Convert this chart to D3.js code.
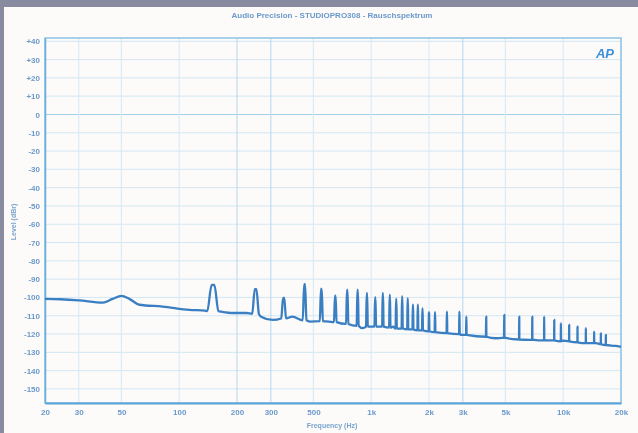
<!DOCTYPE html>
<html>
<head>
<meta charset="utf-8">
<script src="https://cdn.jsdelivr.net/npm/d3@7"></script>
<style>
  html, body { margin: 0; padding: 0; background: #888b9f; }
  svg { display: block; filter: blur(0.45px); }
  text { font-family: "Liberation Sans", Arial, sans-serif; }
</style>
</head>
<body>
<svg id="chart" width="638" height="433"></svg>
<script>
// ---- data ----
const titleText = "Audio Precision - STUDIOPRO308 - Rauschspektrum";
const xTickValues = [20, 30, 50, 100, 200, 300, 500, 1000, 2000, 3000, 5000, 10000, 20000];
const xTickLabels = ["20", "30", "50", "100", "200", "300", "500", "1k", "2k", "3k", "5k", "10k", "20k"];
const yTickValues = [40, 30, 20, 10, 0, -10, -20, -30, -40, -50, -60, -70, -80, -90, -100, -110, -120, -130, -140, -150];
const yTickLabels = ["+40", "+30", "+20", "+10", "0", "-10", "-20", "-30", "-40", "-50", "-60", "-70", "-80", "-90", "-100", "-110", "-120", "-130", "-140", "-150"];

// noise floor: [frequency Hz, level dBr]
const floorPoints = [
  [20, -100.8], [24, -101], [30, -101.6], [40, -102.8], [45, -100.8], [50, -99.2], [55, -100.8],
  [62, -104], [82, -105], [113, -106.8], [136, -107.2], [166, -107.8], [190, -108.5], [224, -108.5],
  [267, -110.5], [307, -112.3], [389, -110.5], [480, -113.2], [600, -113.2], [900, -116.8],
  [1300, -116], [2000, -118.7], [2970, -120.5], [4440, -122.3], [6660, -123.2], [9900, -123.6],
  [14800, -125], [18700, -126.5], [20000, -127]
];
// harmonic spikes: [frequency Hz, peak dBr, foot dBr]
const spikes = [
  [150, -93.2, -107.5], [250, -95.5, -109], [350, -100.3, -111.5], [450, -92.8, -112.5],
  [550, -95.4, -113], [650, -99, -113.5], [750, -95.9, -114.5], [850, -95.9, -115.5],
  [950, -97.7, -116], [1050, -100, -116], [1150, -97.7, -116], [1250, -98.6, -116.5],
  [1350, -100.8, -117], [1450, -99.5, -117], [1550, -100.5, -117.5], [1650, -104, -117.5],
  [1750, -104, -118], [1850, -106, -118], [2000, -108, -118.5], [2150, -108, -119],
  [2480, -107.8, -119.5], [2880, -107.8, -120], [3130, -110.5, -120.5], [3970, -110.5, -121.5],
  [4930, -109.6, -122], [5900, -110.5, -123], [6900, -110.5, -123], [7960, -110.5, -123.5],
  [8980, -112.3, -123.5], [9730, -114.1, -124], [10740, -115, -124], [11870, -116, -124.5],
  [13120, -116.8, -125], [14490, -118.7, -125], [15710, -119.6, -125.5], [16670, -120.5, -126]
];

// ---- layout ----
const svg = d3.select("#chart");
const plot = { left: 45, right: 621, top: 38, bottom: 403 };

svg.append("rect").attr("x", 4).attr("y", 7).attr("width", 634).attr("height", 426).attr("fill", "#fdfafa");

const x = d3.scaleLog().domain([20, 20000]).range([plot.left, plot.right]);
const y = d3.scaleLinear().domain([-157.7, 41.8]).range([plot.bottom, plot.top]);

// grid
const grid = svg.append("g");
grid.selectAll("line.h").data(yTickValues).join("line")
  .attr("x1", plot.left).attr("x2", plot.right)
  .attr("y1", d => y(d)).attr("y2", d => y(d))
  .attr("stroke", d => d === 0 ? "#a6d0ea" : "#d2e7f4").attr("stroke-width", 1);
grid.selectAll("line.v").data(xTickValues).join("line")
  .attr("y1", plot.top).attr("y2", plot.bottom)
  .attr("x1", d => x(d)).attr("x2", d => x(d))
  .attr("stroke", d => (d === 200 || d === 300 || d === 3000) ? "#b4d8ee" : "#d6e9f5").attr("stroke-width", 1);

// plot frame
svg.append("rect").attr("x", plot.left).attr("y", plot.top)
  .attr("width", plot.right - plot.left).attr("height", plot.bottom - plot.top)
  .attr("fill", "none").attr("stroke", "#8cc2e4").attr("stroke-width", 1.5);

// axes
const yAxis = d3.axisLeft(y).tickValues(yTickValues)
  .tickFormat((d, i) => yTickLabels[i]).tickSize(0).tickPadding(5);
const gy = svg.append("g").attr("transform", `translate(${plot.left},0)`).call(yAxis);
gy.select(".domain").attr("stroke", "#6aaedc").attr("stroke-width", 1.5);
gy.selectAll("text").attr("fill", "#6a9aca").attr("font-size", 8).attr("font-weight", "bold");

const xAxis = d3.axisBottom(x).tickValues(xTickValues)
  .tickFormat((d, i) => xTickLabels[i]).tickSize(0).tickPadding(6);
const gx = svg.append("g").attr("transform", `translate(0,${plot.bottom})`).call(xAxis);
gx.select(".domain").attr("stroke", "#5aa4d8").attr("stroke-width", 2);
gx.selectAll("text").attr("fill", "#6a9aca").attr("font-size", 8).attr("font-weight", "bold");

// titles
svg.append("text").attr("x", 332).attr("y", 18).attr("text-anchor", "middle")
  .attr("font-size", 8).attr("fill", "#6a9aca").attr("font-weight", "bold").text(titleText);
svg.append("text").attr("x", 332).attr("y", 428).attr("text-anchor", "middle")
  .attr("font-size", 7).attr("fill", "#7aa4cc").attr("font-weight", "bold").text("Frequency (Hz)");
svg.append("text").attr("transform", "translate(16,222) rotate(-90)").attr("text-anchor", "middle")
  .attr("font-size", 7).attr("fill", "#7aa4cc").attr("font-weight", "bold").text("Level (dBr)");

// logo
svg.append("text").attr("x", 605).attr("y", 58).attr("text-anchor", "middle")
  .attr("font-size", 13).attr("font-style", "italic").attr("font-weight", "bold")
  .attr("fill", "#3b8fd6").text("AP");

// trace: floor points merged with spike shapes
const halfW = 10;
const tracePts = floorPoints.map(d => ({ f: d[0], v: d[1] }));
spikes.forEach(s => {
  tracePts.push({ f: s[0] - halfW, v: s[2] });
  tracePts.push({ f: s[0] - halfW * 0.25, v: s[1] });
  tracePts.push({ f: s[0] + halfW * 0.25, v: s[1] });
  tracePts.push({ f: s[0] + halfW, v: s[2] });
});
tracePts.sort((a, b) => a.f - b.f);

const line = d3.line().x(d => x(d.f)).y(d => y(d.v)).curve(d3.curveMonotoneX);
svg.append("path").datum(tracePts)
  .attr("d", line).attr("fill", "none")
  .attr("stroke", "#3a7fc2").attr("stroke-width", 2.3).attr("stroke-linejoin", "round");
</script>
</body>
</html>
